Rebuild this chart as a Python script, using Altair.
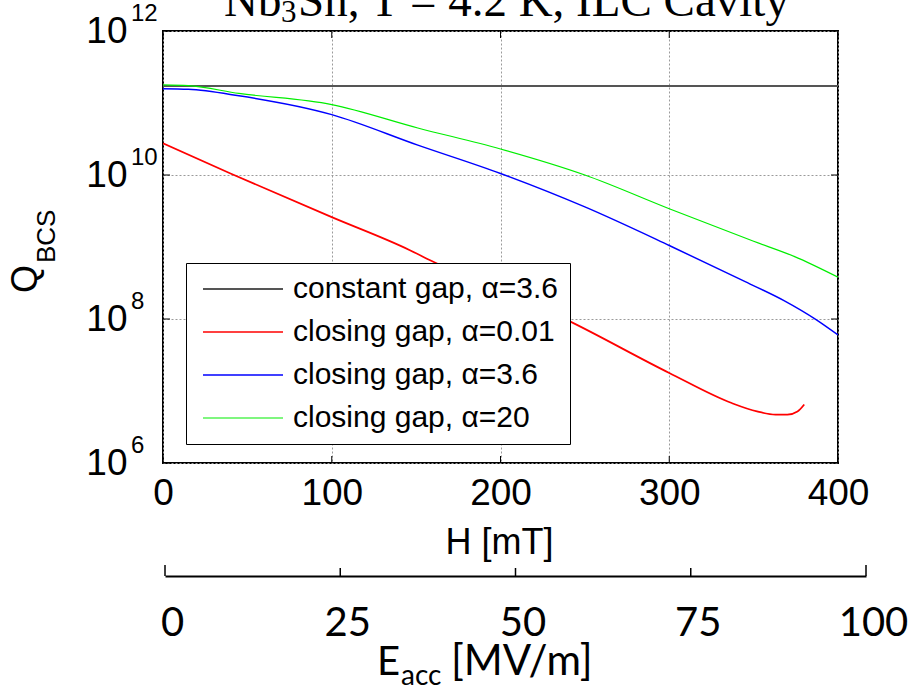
import altair as alt
import pandas as pd

# Applied field H (mT) and BCS quality factor for each model
H_CONST = [0, 400]
Q_CONST = [1.72e11, 1.72e11]

H_A001 = [0, 40, 100, 146, 158, 239, 300, 337, 352, 363, 370, 376, 380]
Q_A001 = [2.75e10, 1.05e10, 2.6e9, 9.1e8, 6.6e8, 9.8e7, 1.78e7, 6.8e6, 5.2e6, 4.7e6, 4.7e6, 5.2e6, 6.5e6]

H_A36 = [0, 15, 45, 100, 151, 200, 250, 300, 345, 368, 387, 400]
Q_A36 = [1.58e11, 1.55e11, 1.26e11, 6.9e10, 2.6e10, 1.05e10, 3.6e9, 1.05e9, 3.3e8, 1.8e8, 9.8e7, 6.0e7]

H_A20 = [0, 15, 45, 100, 151, 200, 250, 300, 350, 374, 400]
Q_A20 = [1.78e11, 1.74e11, 1.36e11, 9.5e10, 4.5e10, 2.3e10, 1.0e10, 3.4e9, 1.2e9, 7.4e8, 3.8e8]

SERIES = ["constant gap, α=3.6", "closing gap, α=0.01", "closing gap, α=3.6", "closing gap, α=20"]
COLORS = ["#555555", "#ff0000", "#0000ff", "#00ee00"]
WIDTHS = [2, 1.2, 1.2, 1.2]

X_TICKS = [0, 100, 200, 300, 400]
Y_TICKS = [1e6, 1e8, 1e10, 1e12]
Y_EXPONENTS = ["6", "8", "10", "12"]
E_TICKS_END = [0, 100]
E_TICKS_MID = [25, 50, 75]

W, H = 675, 432
SANS = "Liberation Sans"

rows = []
for name, hs, qs in zip(SERIES, [H_CONST, H_A001, H_A36, H_A20], [Q_CONST, Q_A001, Q_A36, Q_A20]):
    for h, q in zip(hs, qs):
        rows.append({"series": name, "H": h, "Q": q})
curves = pd.DataFrame(rows)

x_scale = alt.Scale(domain=[0, 400], nice=False, zero=False)
y_scale = alt.Scale(type="log", domain=[1e6, 1e12], nice=False)

x_axis = alt.Axis(values=X_TICKS, ticks=False, domain=False, grid=True, gridColor="#9a9a9a",
                  gridDash=[2, 2], gridWidth=1, labelFont=SANS, labelFontSize=37, labelColor="black",
                  labelPadding=12, labelFlush=False, title="H [mT]", titleFont=SANS, titleFontSize=36,
                  titleFontWeight="normal", titleColor="black", titleBaseline="alphabetic",
                  titleX=336, titleY=90)
y_axis = alt.Axis(values=Y_TICKS, labelExpr="'10'", ticks=False, domain=False, grid=True,
                  gridColor="#9a9a9a", gridDash=[2, 2], gridWidth=1, labelFont=SANS, labelFontSize=37,
                  labelColor="black", labelPadding=36, labelFlush=False, labelOverlap=False, title="")

# legend swatch: a long horizontal stroke drawn from a small symbol size
legend = alt.Legend(title=None, orient="none", legendX=23, legendY=232,
                    fillColor="white", strokeColor="black", padding=11,
                    symbolType="M-8,0H8", symbolSize=100, symbolStrokeWidth=2,
                    symbolOffset=31, labelOffset=35, rowPadding=13,
                    labelFont=SANS, labelFontSize=30, labelColor="black", labelLimit=500)

lines = alt.Chart(curves).mark_line(clip=True, interpolate="monotone").encode(
    x=alt.X("H:Q", scale=x_scale, axis=x_axis),
    y=alt.Y("Q:Q", scale=y_scale, axis=y_axis),
    color=alt.Color("series:N", scale=alt.Scale(domain=SERIES, range=COLORS), legend=legend),
    strokeWidth=alt.StrokeWidth("series:N", scale=alt.Scale(domain=SERIES, range=WIDTHS), legend=None),
    order="H:Q",
)

xt = pd.DataFrame({"H": X_TICKS})
yt = pd.DataFrame({"Q": Y_TICKS, "exp": Y_EXPONENTS})

x_ticks_bottom = alt.Chart(xt).mark_rule(color="black", strokeWidth=1).encode(
    x=alt.X("H:Q", scale=x_scale), y=alt.value(H), y2=alt.value(H - 7))
x_ticks_top = alt.Chart(xt).mark_rule(color="black", strokeWidth=1).encode(
    x=alt.X("H:Q", scale=x_scale), y=alt.value(0), y2=alt.value(7))
y_ticks_left = alt.Chart(yt).mark_rule(color="black", strokeWidth=1).encode(
    y=alt.Y("Q:Q", scale=y_scale), x=alt.value(0), x2=alt.value(7))
y_ticks_right = alt.Chart(yt).mark_rule(color="black", strokeWidth=1).encode(
    y=alt.Y("Q:Q", scale=y_scale), x=alt.value(W - 7), x2=alt.value(W))
y_exps = alt.Chart(yt).mark_text(font=SANS, fontSize=24, align="left", baseline="alphabetic",
                                 dy=-10, color="black").encode(
    y=alt.Y("Q:Q", scale=y_scale), x=alt.value(-32), text="exp:N")

def label(text, x, y, size, font=SANS, angle=0, align="left"):
    return alt.Chart(pd.DataFrame({"t": [text]})).mark_text(
        font=font, fontSize=size, align=align, baseline="alphabetic", angle=angle, color="black"
    ).encode(text="t:N", x=alt.value(x), y=alt.value(y))

SERIF = "Liberation Serif"
title_parts = [
    label("Nb", 61, -15, 47, SERIF),
    label("3", 118, -9, 31, SERIF),
    label("Sn, T = 4.2 K, ILC Cavity", 135, -15, 47, SERIF),
]
ylabel_parts = [
    label("Q", -126, 262, 36, angle=270),
    label("BCS", -108, 232, 26, angle=270),
]
eacc_parts = [
    label("E", 214, 644, 40, "Lato"),
    label("acc", 238, 654, 28, "Lato"),
    label("[MV/m]", 288, 644, 42, "Lato"),
]

main = alt.layer(lines, x_ticks_bottom, x_ticks_top, y_ticks_left, y_ticks_right, y_exps,
                 *title_parts, *ylabel_parts, *eacc_parts)

# Accelerating gradient axis below the field axis
e_scale = alt.Scale(domain=[0, 100], range=[2, 703], nice=False, zero=False)
e_axis = alt.Axis(orient="bottom", offset=113, values=E_TICKS_END + E_TICKS_MID, ticks=False,
                  domainColor="black", domainWidth=2, grid=False, labelFont="Lato",
                  labelFontSize=40, labelColor="black", labelPadding=27, labelOffset=7,
                  labelFlush=False, labelOverlap=False, title="")
e_end = alt.Chart(pd.DataFrame({"E": E_TICKS_END})).mark_rule(color="black", strokeWidth=1.5).encode(
    x=alt.X("E:Q", scale=e_scale, axis=e_axis), y=alt.value(H + 113 - 11), y2=alt.value(H + 113))
e_mid = alt.Chart(pd.DataFrame({"E": E_TICKS_MID})).mark_rule(color="black", strokeWidth=1.5).encode(
    x=alt.X("E:Q", scale=e_scale, axis=e_axis), y=alt.value(H + 113 - 8), y2=alt.value(H + 113))
eacc = alt.layer(e_end, e_mid)

chart = alt.layer(main, eacc).resolve_scale(x="independent").properties(
    width=W, height=H,
    autosize=alt.AutoSizeParams(type="none"),
    padding={"left": 163, "top": 31, "right": 86, "bottom": 225},
    background="white",
).configure_view(stroke="black", strokeWidth=2)

chart.save("out.html", embed_options={"renderer": "svg", "actions": False})
